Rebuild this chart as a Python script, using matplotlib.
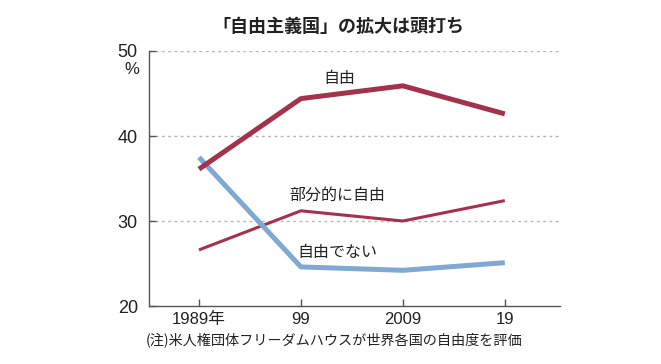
import matplotlib
matplotlib.use("Agg")
import matplotlib.pyplot as plt

years = [1989, 1999, 2009, 2019]
xtick_labels = ["1989年", "99", "2009", "19"]
free = [36.1, 44.4, 45.9, 42.6]
partly_free = [26.6, 31.2, 30.0, 32.4]
not_free = [37.5, 24.6, 24.2, 25.1]
yticks = [20, 30, 40, 50]

plt.rcParams['font.family'] = ['Noto Sans CJK JP', 'DejaVu Sans']

fig = plt.figure(figsize=(6.61, 3.64), dpi=100)
ax = fig.add_axes([0.2254, 0.1593, 0.847 - 0.2254, 0.8599 - 0.1593])

red = "#a5324b"
blue = "#7fa8d2"

for y in [30, 40, 50]:
    ax.axhline(y, color="#b5b5b5", lw=1.0, ls=(0, (2, 2.5)), zorder=0)

ax.plot(years, partly_free, color=red, lw=2.2, solid_capstyle="butt", zorder=2)
ax.plot(years, not_free, color=blue, lw=3.6, solid_capstyle="butt", zorder=3)
ax.plot(years, free, color=red, lw=3.6, solid_capstyle="butt", zorder=4)

ax.set_xlim(1984.1, 2024.4)
ax.set_ylim(20, 50)
ax.set_xticks(years)
ax.set_xticklabels(xtick_labels)
ax.set_yticks(yticks)

for s in ["top", "right"]:
    ax.spines[s].set_visible(False)
for s in ["left", "bottom"]:
    ax.spines[s].set_color("#555555")
    ax.spines[s].set_linewidth(1.0)

tickfont = ['Liberation Sans', 'Noto Sans CJK JP', 'DejaVu Sans']
ax.tick_params(axis="both", direction="in", length=5, color="#555555", width=1.0,
               labelsize=12.5, labelcolor="#222222")
ax.tick_params(axis="y", pad=8)
ax.tick_params(axis="x", pad=4)
for lab in ax.get_yticklabels():
    lab.set_family(tickfont)
    lab.set_fontsize(13)
for lab in ax.get_xticklabels():
    lab.set_family(tickfont)
    lab.set_fontsize(12)

fig.text(132 / 661, 1 - 70 / 364, "%", ha="center", va="center", fontsize=12,
         family=tickfont, color="#222222")

ax.text(2001.2, 46.8, "自由", fontsize=11.5, ha="left", va="center", color="#222222")
ax.text(1997.9, 33.06, "部分的に自由", fontsize=11.5, ha="left", va="center", color="#222222")
ax.text(1998.7, 26.35, "自由でない", fontsize=11.5, ha="left", va="center", color="#222222")

fig.text(338 / 661, 1 - 27 / 364, "「自由主義国」の拡大は頭打ち", ha="center", va="center",
         fontsize=13, fontweight="bold", color="#222222")
fig.text(146 / 661, 1 - 340 / 364, "(注)米人権団体フリーダムハウスが世界各国の自由度を評価",
         ha="left", va="center", fontsize=10.2, color="#222222")

fig.savefig("out.png", dpi=100)
